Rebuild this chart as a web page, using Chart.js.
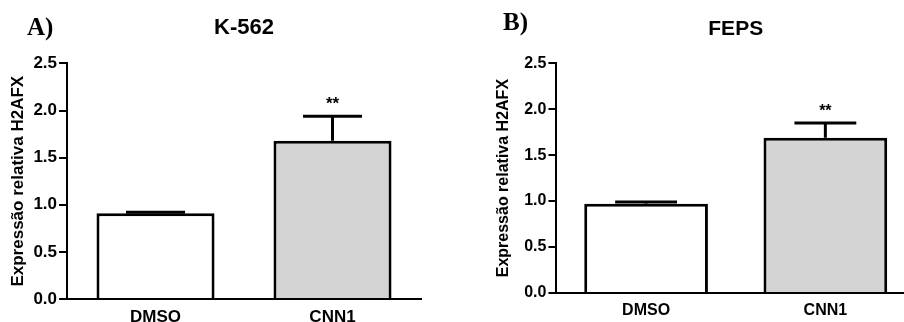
<!DOCTYPE html>
<html>
<head>
<meta charset="utf-8">
<script src="https://cdn.jsdelivr.net/npm/chart.js@4/dist/chart.umd.min.js"></script>
<style>
  html, body { margin: 0; padding: 0; background: #fff; overflow: hidden; }
  body { width: 904px; height: 322px; position: relative; }
  .panel { position: absolute; top: 0; height: 322px; }
  .tag { position: absolute; font-family: "Liberation Serif", serif; font-weight: bold; font-size: 25px; line-height: 1; color: #000; }
</style>
</head>
<body>
<div class="panel" style="left:0; width:450px;"><canvas id="chartA"></canvas></div>
<div class="panel" style="left:450px; width:480px;"><canvas id="chartB"></canvas></div>
<div class="tag" style="left:27px; top:14px;">A)</div>
<div class="tag" style="left:503px; top:9px;">B)</div>
<script>
// groups on the x axis
const categories = ['DMSO', 'CNN1'];

// K-562: mean and upper SEM
const k562Means = [0.91, 1.68];
const k562Errors = [0.01, 0.26];

// FEPS: mean and upper SEM
const fepsMeans = [0.97, 1.69];
const fepsErrors = [0.02, 0.16];

// significance marks above each bar
const marks = ['', '**'];

const barColors = ['#ffffff', '#d4d4d4'];
const font = 'Liberation Sans, Arial, sans-serif';

// draws the upper error whisker and the star labels
const errorBars = {
    id: 'errorBars',
    afterDatasetsDraw(chart) {
        const ctx = chart.ctx;
        const y = chart.scales.y;
        const opts = chart.options.plugins.errorBars;
        const means = chart.data.datasets[0].data;
        chart.getDatasetMeta(0).data.forEach((bar, i) => {
            const top = y.getPixelForValue(means[i] + opts.errors[i]);
            const half = bar.width * 0.25;
            ctx.save();
            ctx.strokeStyle = '#000';
            ctx.lineWidth = 3;
            ctx.beginPath();
            ctx.moveTo(bar.x, bar.y);
            ctx.lineTo(bar.x, top);
            ctx.moveTo(bar.x - half, top);
            ctx.lineTo(bar.x + half, top);
            ctx.stroke();
            if (marks[i]) {
                ctx.fillStyle = '#000';
                ctx.font = 'bold ' + Math.round(17 * opts.scale) + 'px ' + font;
                ctx.textAlign = 'center';
                ctx.textBaseline = 'bottom';
                ctx.fillText(marks[i], bar.x, top - 3);
            }
            ctx.restore();
        });
    }
};

function makeConfig(title, means, errors, padding, titlePad, yTitlePad, barPct, s) {
    return {
        type: 'bar',
        data: {
            labels: categories,
            datasets: [{
                data: means,
                backgroundColor: barColors,
                borderColor: '#000',
                borderWidth: 3,
                categoryPercentage: 1,
                barPercentage: barPct
            }]
        },
        options: {
            responsive: true,
            maintainAspectRatio: false,
            animation: false,
            layout: { padding: padding },
            plugins: {
                legend: { display: false },
                tooltip: { enabled: false },
                title: {
                    display: true,
                    text: title,
                    fullSize: false,
                    color: '#000',
                    font: { family: font, size: Math.round(22 * s), weight: 'bold' },
                    padding: { top: 0, bottom: titlePad }
                },
                errorBars: { errors: errors, scale: s }
            },
            scales: {
                x: {
                    grid: { display: false },
                    border: { display: true, color: '#000', width: 2 },
                    ticks: { color: '#000', font: { family: font, size: Math.round(17 * s), weight: 'bold', lineHeight: 1 }, padding: 2 }
                },
                y: {
                    min: 0,
                    max: 2.5,
                    grid: { drawOnChartArea: false, color: '#000', lineWidth: 2, tickLength: 8 },
                    border: { display: true, color: '#000', width: 2 },
                    ticks: {
                        stepSize: 0.5,
                        color: '#000',
                        padding: 2,
                        font: { family: font, size: Math.round(17 * s), weight: 'bold' },
                        callback: v => v.toFixed(1)
                    },
                    title: {
                        display: true,
                        text: 'Expressão relativa H2AFX',
                        color: '#000',
                        font: { family: font, size: Math.round(17 * s), weight: 'bold', lineHeight: 1.2 },
                        padding: { top: 0, bottom: yTitlePad }
                    }
                }
            }
        },
        plugins: [errorBars]
    };
}

new Chart(document.getElementById('chartA'),
    makeConfig('K-562', k562Means, k562Errors, { left: 8, right: 29, top: 15, bottom: -6 }, 22, 3, 0.667, 1));
new Chart(document.getElementById('chartB'),
    makeConfig('FEPS', fepsMeans, fepsErrors, { left: 44, right: 15, top: 17, bottom: 1 }, 21, 9, 0.69, 0.97));
</script>
</body>
</html>
